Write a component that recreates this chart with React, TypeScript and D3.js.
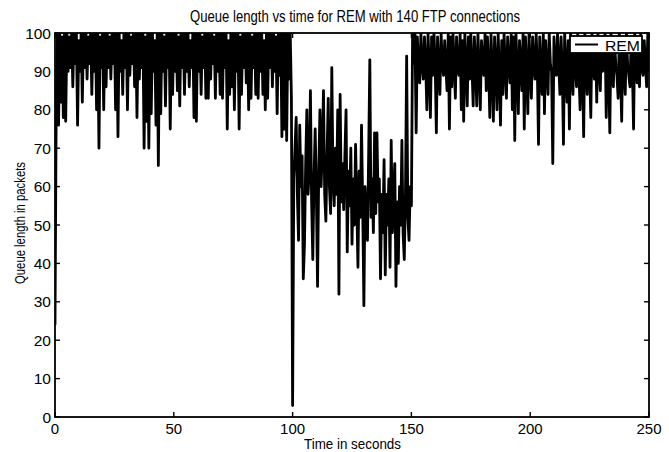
import React from "react";
import * as d3 from "d3";

// queue samples every 0.5 s
const STEP = 0.5;

// 0 .. 99.5 s  (queue mostly full)
const phaseOne = [
  24, 80, 100, 76, 100, 82, 99, 78, 100, 77, 100, 90, 99, 91, 100, 86, 100, 92, 100, 76,
  98, 90, 100, 82, 100, 91, 100, 88, 99, 92, 100, 84, 100, 90, 100, 80, 100, 70, 99, 91,
  100, 80, 100, 86, 100, 91, 99, 88, 100, 92, 100, 80, 100, 73, 100, 90, 98, 84, 100, 91,
  100, 80, 100, 89, 99, 92, 100, 86, 100, 78, 100, 88, 100, 91, 100, 70, 99, 77, 100, 70,
  100, 79, 100, 90, 98, 76, 100, 65.5, 100, 79, 100, 90, 99, 81, 100, 91, 100, 75, 100, 84,
  100, 90, 100, 85, 99, 81, 100, 91, 100, 84, 100, 90, 100, 86, 98, 91, 100, 78, 100, 77,
  100, 90, 100, 84, 99, 91, 100, 83, 100, 83, 100, 88, 100, 92, 99, 83, 100, 90, 100, 84,
  100, 83, 100, 91, 100, 75, 98, 84, 100, 86, 100, 80, 100, 90, 100, 75, 99, 84, 100, 91,
  100, 87, 100, 80, 100, 83, 99, 91, 100, 84, 100, 83, 100, 90, 100, 84, 98, 80, 100, 83,
  100, 91, 100, 86, 100, 90, 99, 79, 100, 89, 100, 73, 100, 75, 100, 72, 100, 88, 100, 83,
];

// 100 .. 150 s
const phaseTwo = [
  3, 62, 70, 78, 58, 46, 76, 60, 68, 36,
  45, 66, 80, 58, 64, 85, 56, 41, 62, 75,
  58, 34, 64, 80, 60, 70, 85, 58, 51, 68,
  83, 60, 53, 91, 62, 55, 70, 58, 80, 32,
  84, 56, 66, 54, 68, 80, 43, 64, 55, 70,
  45, 62, 50, 71, 56, 39, 64, 52, 76, 55,
  29, 60, 50, 46, 68, 93, 52, 62, 48, 74,
  53, 74, 56, 62, 36, 58, 48, 67, 37, 58,
  50, 62, 39, 72, 48, 58, 66, 34, 56, 40,
  60, 50, 72, 48, 41, 58, 94, 52, 46, 60,
  55,
];

// 150.5 .. 250 s
const phaseThree = [
  100, 92, 100, 74, 99, 91, 87, 100, 92, 88, 99, 92, 80, 100, 91, 78, 99, 89, 100, 92,
  74, 99, 91, 84, 100, 92, 89, 98, 91, 85, 100, 75, 99, 86, 100, 92, 83, 99, 91, 89,
  100, 80, 98, 77, 100, 92, 81, 99, 88, 100, 91, 81, 99, 92, 81, 100, 91, 80, 98, 92,
  89, 100, 85, 99, 91, 78, 100, 90, 77, 99, 92, 80, 100, 90, 76, 98, 84, 100, 91, 83,
  99, 92, 87, 100, 80, 99, 72, 100, 91, 79, 98, 92, 85, 100, 75, 99, 91, 79, 100, 91,
  83, 99, 92, 88, 100, 91, 71, 99, 90, 84, 100, 79, 98, 91, 84, 100, 92, 90, 66, 99,
  91, 89, 100, 92, 84, 99, 90, 71, 100, 91, 82, 98, 75, 100, 91, 84, 99, 92, 86, 100,
  90, 80, 99, 91, 73, 100, 92, 84, 98, 91, 78, 100, 92, 88, 99, 82, 100, 91, 85, 99,
  90, 92, 100, 78, 99, 91, 74, 100, 90, 86, 98, 92, 89, 83, 100, 90, 77, 99, 91, 84,
  100, 92, 89, 86, 99, 91, 75, 100, 92, 87, 99, 86, 100, 91, 89, 98, 92, 86, 100, 90,
];

const phaseStarts = [0, 100, 150.5];

const xTicks = [0, 50, 100, 150, 200, 250];
const yTicks = [0, 10, 20, 30, 40, 50, 60, 70, 80, 90, 100];

type Pt = { t: number; q: number };

const FONT = "'Liberation Sans', Arial, Helvetica, sans-serif";

export default function App() {
  const width = 669;
  const height = 452;
  const plot = { left: 55, right: 649, top: 33, bottom: 417 };

  const x = d3.scaleLinear().domain([0, 250]).range([plot.left, plot.right]);
  const y = d3.scaleLinear().domain([0, 100]).range([plot.bottom, plot.top]);

  const series: Pt[] = [];
  [phaseOne, phaseTwo, phaseThree].forEach((arr, k) => {
    arr.forEach((q, i) => series.push({ t: phaseStarts[k] + i * STEP, q }));
  });

  const line = d3.line<Pt>()
    .x(d => x(d.t))
    .y(d => y(d.q));

  const tickLen = 5;

  return (
    <svg width={width} height={height} style={{ position: "absolute", left: 0, top: 0, background: "#fff" }}>
      <defs>
        <clipPath id="plotclip">
          <rect x={plot.left} y={plot.top} width={plot.right - plot.left} height={plot.bottom - plot.top}/>
        </clipPath>
      </defs>

      <path d={line(series) || ""} fill="none" stroke="#000" strokeWidth={2.8}
            strokeLinejoin="round" clipPath="url(#plotclip)"/>

      {/* frame */}
      <rect x={plot.left} y={plot.top} width={plot.right - plot.left} height={plot.bottom - plot.top}
            fill="none" stroke="#000" strokeWidth={1.8}/>

      {/* x ticks, inward on bottom and top */}
      {xTicks.map(t => (
        <g key={"x" + t}>
          <line x1={x(t)} x2={x(t)} y1={plot.bottom} y2={plot.bottom - tickLen} stroke="#000" strokeWidth={1.4}/>
          <line x1={x(t)} x2={x(t)} y1={plot.top} y2={plot.top + tickLen} stroke="#000" strokeWidth={1.4}/>
          <text x={x(t)} y={434} textAnchor="middle" fontFamily={FONT} fontSize={15} fill="#000">{t}</text>
        </g>
      ))}

      {/* y ticks, inward on left and right */}
      {yTicks.map(v => (
        <g key={"y" + v}>
          <line x1={plot.left} x2={plot.left + tickLen} y1={y(v)} y2={y(v)} stroke="#000" strokeWidth={1.4}/>
          <line x1={plot.right} x2={plot.right - tickLen} y1={y(v)} y2={y(v)} stroke="#000" strokeWidth={1.4}/>
          <text x={51} y={y(v)} dy="0.36em" textAnchor="end" fontFamily={FONT} fontSize={15.5} fill="#000">{v}</text>
        </g>
      ))}

      {/* legend */}
      <g>
        <rect x={570} y={36} width={72} height={17} fill="#fff" stroke="#000" strokeWidth={1.8}/>
        <line x1={575} x2={598} y1={44.5} y2={44.5} stroke="#000" strokeWidth={2}/>
        <text x={605} y={51} fontFamily={FONT} fontSize={15} fill="#000" textLength={35}
              lengthAdjust="spacingAndGlyphs">REM</text>
      </g>

      <text x={190} y={22} fontFamily={FONT} fontSize={16} fill="#000" textLength={330}
            lengthAdjust="spacingAndGlyphs">
        Queue length vs time for REM with 140 FTP connections
      </text>
      <text x={304} y={449} fontFamily={FONT} fontSize={15.5} fill="#000" textLength={97}
            lengthAdjust="spacingAndGlyphs">
        Time in seconds
      </text>
      <text transform="translate(25,223) rotate(-90)" textAnchor="middle" fontFamily={FONT} fontSize={14}
            fill="#000" textLength={122} lengthAdjust="spacingAndGlyphs">
        Queue length in packets
      </text>
    </svg>
  );
}
